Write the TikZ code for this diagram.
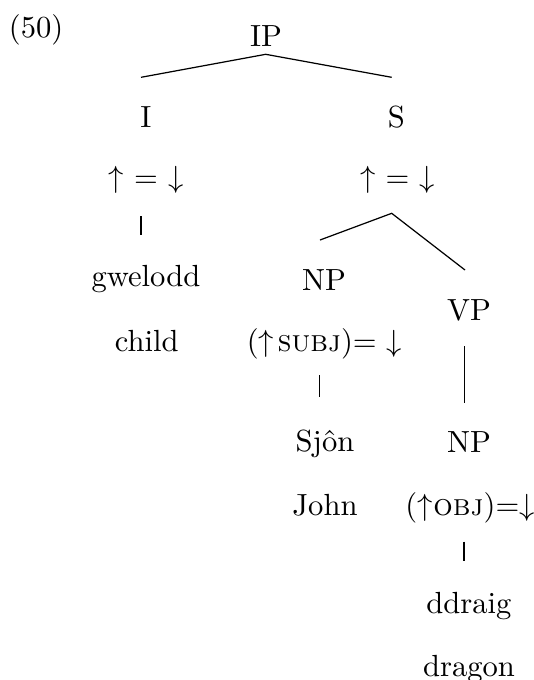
\documentclass[tikz,border=0pt]{standalone}
\begin{document}
\begin{tikzpicture}[x=0.327pt,y=-0.327pt,
  lbl/.style={anchor=base,inner sep=0pt,outer sep=0pt},
  branch/.style={line width=0.4pt}]
\useasboundingbox (0,0) rectangle (534,680);
% labels
\node[lbl,anchor=base west] (ex) at (9,37.3) {(50)};
\node[lbl] (ip) at (266,46.7) {IP};
\node[lbl] (i) at (146,127.7) {I};
\node[lbl] (s) at (396.5,127.5) {S};
\node[lbl] (ieq) at (146,187.5) {$\uparrow$ = $\downarrow$};
\node[lbl] (seq) at (397.5,187.5) {$\uparrow$ = $\downarrow$};
\node[lbl] (gw) at (146,286.7) {gwelodd};
\node[lbl] (child) at (146.7,351.7) {child};
\node[lbl] (np1) at (324,290) {NP};
\node[lbl] (vp) at (469,320) {VP};
\node[lbl] (subj) at (324.5,351.7) {($\uparrow$\kern1.2pt\textsc{subj})$=$ $\downarrow$};
\node[lbl] (sjon) at (325,451) {Sjôn};
\node[lbl] (np2) at (469,452.7) {NP};
\node[lbl] (john) at (325,515) {John};
\node[lbl] (obj) at (470,515) {($\uparrow$\kern0.3pt\textsc{obj})$=\downarrow$};
\node[lbl] (ddraig) at (469,613.3) {ddraig};
\node[lbl] (dragon) at (469,676.7) {dragon};
% connector end points
\coordinate (ipT) at (265.7,54.3);
\coordinate (ipL) at (141,77.3);
\coordinate (ipR) at (391.7,77.3);
\coordinate (iT) at (141,216);
\coordinate (iB) at (141,235);
\coordinate (sT) at (391.7,213.3);
\coordinate (sL) at (320,240);
\coordinate (sR) at (465,270);
\coordinate (subjT) at (319.3,375);
\coordinate (subjB) at (319.3,397.3);
\coordinate (vpT) at (464.3,346);
\coordinate (vpB) at (464.3,402.7);
\coordinate (objT) at (464,541.7);
\coordinate (objB) at (464,560.7);
% connectors
\draw[branch] (ipL) -- (ipT) -- (ipR);
\draw[branch] (iT) -- (iB);
\draw[branch] (sL) -- (sT) -- (sR);
\draw[branch] (subjT) -- (subjB);
\draw[branch] (vpT) -- (vpB);
\draw[branch] (objT) -- (objB);
\end{tikzpicture}
\end{document}
